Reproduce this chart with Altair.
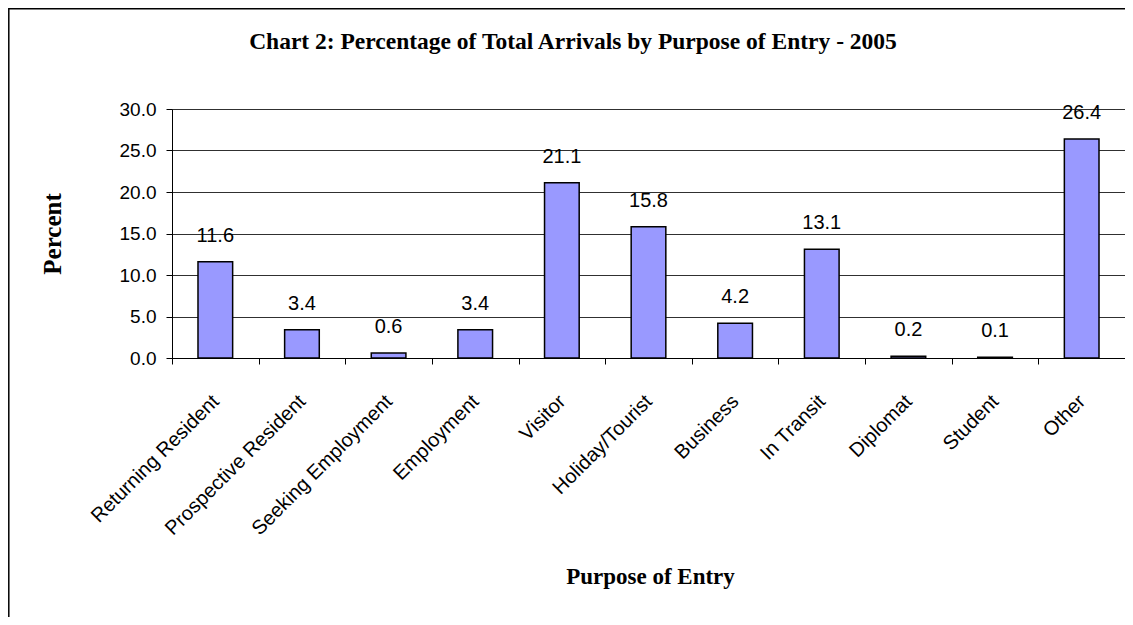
import altair as alt
import pandas as pd

categories = ["Returning Resident", "Prospective Resident", "Seeking Employment",
              "Employment", "Visitor", "Holiday/Tourist", "Business", "In Transit",
              "Diplomat", "Student", "Other"]
percents = [11.6, 3.4, 0.6, 3.4, 21.1, 15.8, 4.2, 13.1, 0.2, 0.1, 26.4]
y_ticks = [0, 5, 10, 15, 20, 25, 30]

chart_title = "Chart 2: Percentage of Total Arrivals by Purpose of Entry - 2005"
x_title = "Purpose of Entry"
y_title = "Percent"

df = pd.DataFrame({"Purpose": categories, "Percent": percents})

W, H = 953, 249
SANS = "Liberation Sans"
SERIF = "Liberation Serif"

x_enc = alt.X("Purpose:N", sort=categories,
              scale=alt.Scale(paddingInner=0, paddingOuter=0),
              axis=alt.Axis(title=x_title, labelAngle=-45, labelAlign="right",
                            labelBaseline="middle", labelPadding=34, labelLimit=400,
                            labelOverlap=False, labelFont=SANS, labelFontSize=20,
                            labelColor="black", tickBand="extent", tickSize=6,
                            tickColor="black", domainColor="black",
                            titleFont=SERIF, titleFontSize=23, titleFontWeight="bold",
                            titleColor="black", titleX=650 - 172, titleY=218,
                            titleBaseline="middle", titleAlign="center"))
y_enc = alt.Y("Percent:Q", scale=alt.Scale(domain=[0, 30], nice=False),
              axis=alt.Axis(title=y_title, values=y_ticks, format=".1f",
                            labelFont=SANS, labelFontSize=19, labelColor="black",
                            labelPadding=10, tickSize=6, tickColor="black",
                            domainColor="black", grid=True, gridColor="#303030",
                            gridWidth=1, titleFont=SERIF, titleFontSize=25,
                            titleFontWeight="bold", titleColor="black",
                            titleX=-120, titleY=H / 2, titleAngle=-90,
                            titleBaseline="middle", titleAlign="center"))

base = alt.Chart(df)

bars = base.mark_bar(color="#9999FF", stroke="black", strokeWidth=1.5,
                     width=alt.RelativeBandSize(0.4)).encode(x=x_enc, y=y_enc)

labels = base.mark_text(font=SANS, fontSize=20, color="black",
                        baseline="alphabetic", dy=-20).encode(
    x=alt.X("Purpose:N", sort=categories),
    y=alt.Y("Percent:Q"),
    text=alt.Text("Percent:Q", format=".1f"))

border = alt.Chart(alt.Data(values=[{"k": 1}])).mark_rect(
    fillOpacity=0, stroke="black", strokeWidth=1.5).encode(
    x=alt.value(-163.2), x2=alt.value(1200), y=alt.value(-100.2), y2=alt.value(700))

title_text = alt.Chart(alt.Data(values=[{"t": chart_title}])).mark_text(
    font=SERIF, fontSize=23.5, fontWeight="bold", color="black",
    baseline="middle", align="center").encode(
    x=alt.value(573 - 172), y=alt.value(42 - 109), text="t:N")

chart = alt.layer(bars, labels, border, title_text).properties(
    width=W, height=H,
    padding={"left": 164, "top": 101, "right": 0, "bottom": 259},
    autosize=alt.AutoSizeParams(type="none"),
    background="white",
).configure_view(stroke="#808080", strokeWidth=1)

chart.save("out.html", embed_options={"renderer": "svg", "actions": False})
